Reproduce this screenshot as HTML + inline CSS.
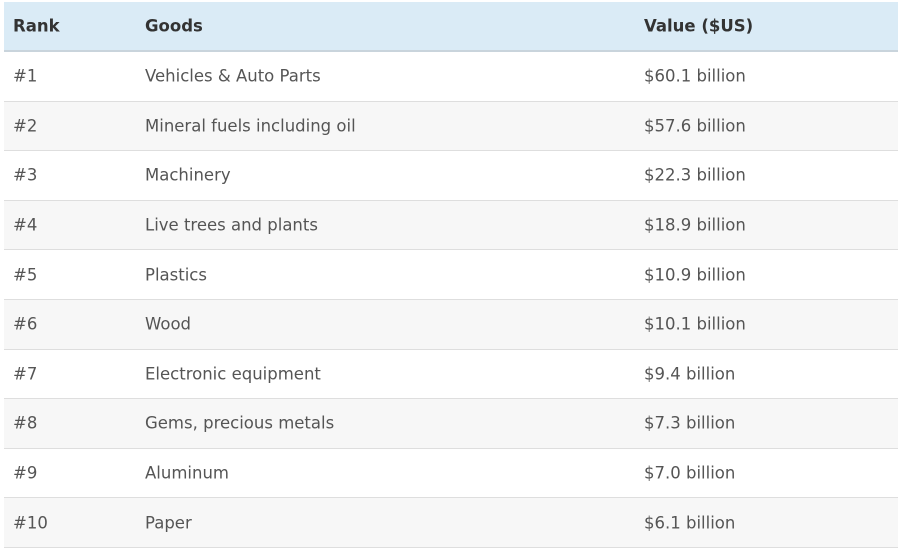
<!DOCTYPE html>
<html><head><style>
body{margin:0;width:900px;height:542px;overflow:hidden;background:#fff;font-family:"DejaVu Sans","Liberation Sans",sans-serif;}
.t{position:absolute;left:4px;top:2px;width:894px;}
.r{height:49.6px;box-sizing:border-box;border-bottom:1px solid #dedede;position:relative;font-size:16.5px;color:#555;}
.r span{position:absolute;top:50%;transform:translateY(-50%);white-space:nowrap;}
.h{height:50px;background:#daebf6;border-bottom:2px solid #c9d4dc;font-weight:bold;color:#333;}
.g{background:#f7f7f7;}
.a{left:9px}.b{left:141px}.c{left:640px}
</style></head><body>
<div class="t">
<div class="r h"><span class="a">Rank</span><span class="b">Goods</span><span class="c">Value ($US)</span></div>
<div class="r"><span class="a">#1</span><span class="b">Vehicles &amp; Auto Parts</span><span class="c">$60.1 billion</span></div>
<div class="r g"><span class="a">#2</span><span class="b">Mineral fuels including oil</span><span class="c">$57.6 billion</span></div>
<div class="r"><span class="a">#3</span><span class="b">Machinery</span><span class="c">$22.3 billion</span></div>
<div class="r g"><span class="a">#4</span><span class="b">Live trees and plants</span><span class="c">$18.9 billion</span></div>
<div class="r"><span class="a">#5</span><span class="b">Plastics</span><span class="c">$10.9 billion</span></div>
<div class="r g"><span class="a">#6</span><span class="b">Wood</span><span class="c">$10.1 billion</span></div>
<div class="r"><span class="a">#7</span><span class="b">Electronic equipment</span><span class="c">$9.4 billion</span></div>
<div class="r g"><span class="a">#8</span><span class="b">Gems, precious metals</span><span class="c">$7.3 billion</span></div>
<div class="r"><span class="a">#9</span><span class="b">Aluminum</span><span class="c">$7.0 billion</span></div>
<div class="r g"><span class="a">#10</span><span class="b">Paper</span><span class="c">$6.1 billion</span></div>
</div>
</body></html>
